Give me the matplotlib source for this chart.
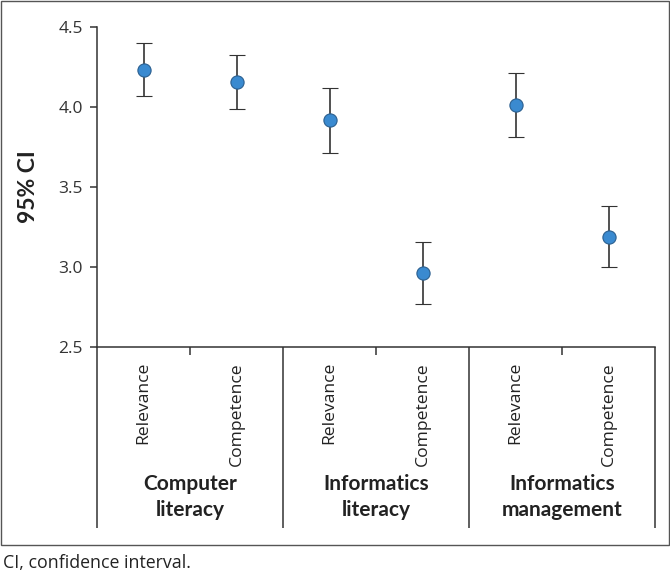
import matplotlib
matplotlib.use("Agg")
import matplotlib.pyplot as plt
from matplotlib.patches import Rectangle

# data
groups = ["Computer\nliteracy", "Informatics\nliteracy", "Informatics\nmanagement"]
measures = ["Relevance", "Competence"]
means = [4.23, 4.155, 3.918, 2.965, 4.013, 3.19]
upper = [4.397, 4.325, 4.119, 3.158, 4.214, 3.383]
lower = [4.068, 3.988, 3.714, 2.771, 3.811, 2.998]

W, H = 670, 572
fig = plt.figure(figsize=(W / 100, H / 100), dpi=100)
ax = fig.add_axes([97 / W, (H - 347) / H, (655 - 97) / W, 320 / H])

dark = "#333333"
x = [i + 0.5 for i in range(len(means))]
yerr = [[m - lo for m, lo in zip(means, lower)], [u - m for m, u in zip(means, upper)]]
ax.errorbar(x, means, yerr=yerr, fmt="o", color=dark, ecolor=dark, elinewidth=1.2,
            capsize=5.5, capthick=1.2, markersize=9.5, markerfacecolor="#3a8ad0",
            markeredgecolor="#2b5f8f", markeredgewidth=0.8, zorder=3)

ax.set_xlim(0, 6)
ax.set_ylim(2.5, 4.5)
ax.set_yticks([2.5, 3.0, 3.5, 4.0, 4.5])
ax.set_yticklabels(["2.5", "3.0", "3.5", "4.0", "4.5"], fontfamily="Open Sans",
                   fontsize=12.5, color=dark)
ax.tick_params(axis="y", direction="out", length=5, width=1.1, color=dark, pad=5)

# long separators as major ticks, short ticks between measures as minor ticks
ax.set_xticks([0, 2, 4, 6])
ax.set_xticklabels([])
ax.set_xticks([1, 3, 5], minor=True)
ax.tick_params(axis="x", which="major", direction="out", length=130, width=1.1, color=dark)
ax.tick_params(axis="x", which="minor", direction="out", length=6, width=1.1, color=dark)

for s in ["top", "right"]:
    ax.spines[s].set_visible(False)
for s in ["left", "bottom"]:
    ax.spines[s].set_color(dark)
    ax.spines[s].set_linewidth(1.1)

trans = ax.get_xaxis_transform()
for i, xi in enumerate(x):
    ax.text(xi, -15 / 320, measures[i % 2], rotation=90, ha="center", va="top",
            transform=trans, fontfamily="Open Sans", fontsize=12.6, color="#222222")
for g, name in enumerate(groups):
    ax.text(2 * g + 1, -127 / 320, name, ha="center", va="top", transform=trans,
            fontfamily="Lato", fontweight="bold", fontsize=15, color="#222222",
            linespacing=1.35)

ax.set_ylabel("95% CI", fontfamily="Lato", fontweight="bold", fontsize=16.5,
              color="#222222", labelpad=14)

# frame around the figure and the caption below it
fig.patches.append(Rectangle((0.5 / W, (H - 545) / H), 668.5 / W, 544.5 / H,
                             transform=fig.transFigure, fill=False,
                             edgecolor="#555555", linewidth=1.0))
fig.text(3 / W, (H - 563) / H, "CI, confidence interval.", ha="left", va="center",
         fontfamily="Open Sans", fontsize=12.8, color="#222222")

plt.savefig("out.png", dpi=100)
